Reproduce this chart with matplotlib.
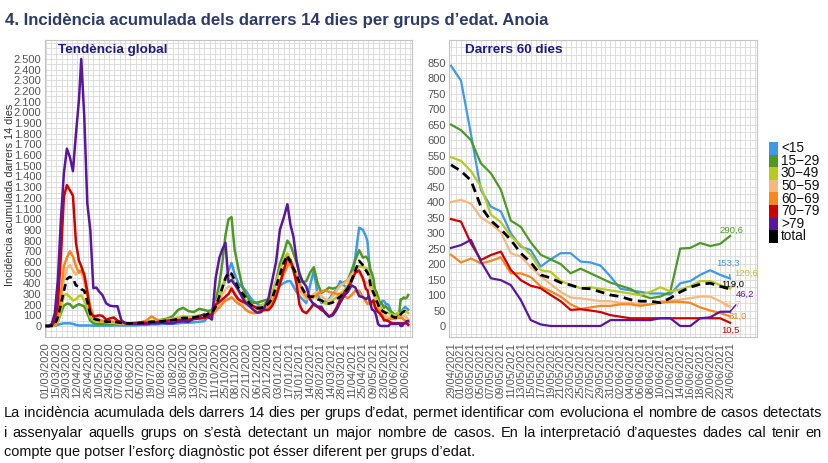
import datetime as dt
import matplotlib
matplotlib.use("Agg")
import matplotlib.pyplot as plt
from matplotlib import font_manager
from matplotlib.patches import Rectangle
from matplotlib.ticker import FixedLocator, FuncFormatter

# ------------------------------------------------------------------ data
groups = ["<15", "15\u221229", "30\u221249", "50\u221259", "60\u221269", "70\u221279", ">79", "total"]
colors = ["#3d9ae8", "#4b9a25", "#b9c91e", "#f8b77c", "#f7861d", "#d00000", "#5a169d", "#000000"]

left_start = dt.date(2020, 3, 1)
# days since 01/03/2020 (left panel, before the last 60 days)
left_days = [0, 4, 8, 12, 16, 20, 24, 28, 32, 36, 40, 44, 47, 51, 55, 59, 63, 67, 71, 75, 80, 85, 90, 95, 100, 105,
             112, 119, 126, 133, 140, 147, 154, 161, 168, 175, 182, 189, 196, 203, 210,
             215, 220, 225, 230, 234, 238, 242, 246, 250, 255, 260, 265, 270, 275, 280, 285, 290, 295, 300, 305,
             310, 315, 320, 324, 328, 332, 336, 340, 345, 350, 355, 360, 365, 370, 375, 380, 385, 390, 395, 400,
             405, 410, 415, 420]

left_u15 = [0, 0, 0, 2, 10, 20, 25, 25, 25, 20, 10, 5, 5, 5, 5, 5, 3, 3, 3, 3, 3, 3, 5, 5, 5, 5,
            5, 5, 10, 10, 15, 15, 20, 20, 20, 25, 30, 30, 35, 40, 45,
            90, 110, 150, 250, 370, 430, 520, 590, 490, 400, 365, 330, 275, 230, 210, 185, 200, 240, 270, 320,
            380, 400, 420, 420, 370, 320, 280, 250, 215, 380, 520, 300, 215, 230, 250, 300, 340, 420, 380, 350,
            420, 650, 920, 900]
left_15_29 = [0, 0, 0, 5, 40, 120, 190, 210, 205, 170, 190, 205, 195, 185, 120, 50, 25, 20, 20, 20, 20, 20, 20, 20, 20, 20,
              25, 30, 35, 40, 45, 50, 60, 70, 90, 150, 170, 140, 130, 160, 150,
              140, 150, 230, 400, 600, 850, 1000, 1020, 720, 540, 380, 290, 240, 215, 220, 230, 240, 250, 300, 420,
              580, 680, 800, 760, 680, 600, 500, 410, 420, 500, 550, 400, 310, 330, 360, 350, 360, 380, 410, 430,
              520, 620, 710, 640]
left_30_49 = [0, 0, 0, 5, 40, 150, 290, 300, 270, 240, 250, 280, 285, 240, 170, 80, 55, 45, 40, 40, 35, 30, 30, 25, 25, 25,
              25, 25, 30, 35, 40, 45, 55, 60, 70, 80, 90, 85, 90, 100, 100,
              110, 130, 200, 300, 380, 440, 480, 470, 400, 330, 280, 240, 200, 185, 180, 190, 210, 250, 310, 420,
              520, 620, 680, 620, 560, 480, 400, 330, 280, 270, 290, 260, 230, 210, 210, 240, 270, 300, 330, 380,
              460, 520, 560, 550]
left_50_59 = [0, 0, 0, 5, 60, 250, 430, 540, 570, 520, 480, 520, 500, 420, 280, 140, 80, 60, 50, 45, 40, 35, 30, 25, 25, 25,
              25, 25, 30, 35, 40, 45, 50, 55, 60, 60, 65, 65, 70, 75, 80,
              80, 100, 160, 230, 300, 340, 370, 360, 310, 250, 220, 200, 180, 160, 150, 150, 170, 200, 250, 330,
              420, 500, 580, 570, 520, 430, 340, 300, 250, 260, 300, 320, 280, 250, 240, 280, 330, 380, 400, 430,
              480, 520, 500, 430]
left_60_69 = [0, 0, 0, 10, 80, 300, 560, 640, 700, 650, 560, 500, 520, 470, 330, 180, 100, 70, 55, 50, 40, 45, 40, 30, 30, 25,
              25, 30, 35, 50, 90, 60, 45, 50, 50, 55, 60, 60, 65, 70, 75,
              80, 100, 140, 175, 210, 240, 250, 270, 240, 210, 190, 150, 130, 120, 125, 130, 150, 180, 230, 300,
              400, 480, 560, 600, 520, 450, 400, 330, 280, 250, 270, 300, 320, 335, 320, 310, 300, 300, 280, 260,
              290, 330, 330, 270]
left_70_79 = [0, 0, 5, 50, 210, 650, 1210, 1320, 1270, 1220, 780, 610, 560, 480, 320, 130, 90, 95, 100, 95, 60, 70, 80, 50, 40, 30,
              20, 25, 30, 30, 35, 35, 45, 50, 55, 55, 60, 60, 65, 70, 75,
              85, 115, 200, 225, 250, 275, 300, 350, 300, 250, 230, 215, 200, 185, 165, 150, 150, 150, 190, 270,
              390, 520, 640, 620, 524, 400, 200, 140, 120, 160, 210, 180, 150, 130, 90, 110, 170, 250, 310, 360,
              420, 500, 520, 450]
left_over79 = [0, 0, 20, 120, 430, 990, 1430, 1660, 1580, 1450, 1800, 2120, 2500, 1960, 1150, 900, 355, 360, 320, 290, 212, 190, 185, 185, 56, 25,
               25, 20, 20, 20, 25, 25, 30, 25, 25, 40, 45, 40, 70, 90, 110,
               85, 60, 450, 640, 720, 780, 410, 430, 390, 340, 270, 215, 185, 150, 125, 130, 180, 260, 430, 600,
               900, 1010, 1140, 950, 836, 620, 480, 420, 370, 250, 200, 180, 180, 120, 87, 100, 150, 220, 280, 320,
               380, 360, 280, 270]
left_total = [0, 0, 2, 15, 80, 200, 330, 440, 460, 445, 380, 370, 345, 330, 230, 110, 70, 60, 55, 50, 40, 40, 40, 35, 30, 25,
              25, 25, 30, 30, 40, 40, 45, 50, 55, 65, 75, 75, 80, 90, 95,
              115, 120, 180, 280, 360, 450, 500, 490, 430, 360, 310, 260, 210, 180, 170, 170, 180, 210, 260, 370,
              480, 590, 660, 590, 540, 480, 410, 350, 285, 275, 275, 250, 240, 215, 210, 220, 250, 275, 310, 350,
              430, 520, 610, 570]

# last 60 days panel: days since 29/04/2021 (= day 424 of the left panel)
right_start = dt.date(2021, 4, 29)
right_offset = 424
right_days = list(range(0, 57, 2))
right_u15 = [840, 792, 620, 439, 385, 370, 299, 256, 245, 192, 215, 235, 235, 208, 205, 195, 160, 120, 115,
             110, 105, 105, 102, 138, 145, 165, 180, 165, 153.3]
right_15_29 = [650, 632, 600, 525, 493, 440, 340, 320, 270, 230, 215, 200, 170, 185, 170, 155, 140, 130, 120,
               100, 90, 95, 110, 250, 252, 268, 258, 265, 290.6]
right_30_49 = [545, 533, 500, 450, 360, 335, 290, 261, 230, 180, 175, 145, 133, 122, 125, 120, 115, 110, 105,
               100, 110, 125, 112, 118, 128, 145, 145, 132, 120.6]
right_50_59 = [400, 407, 395, 350, 330, 303, 235, 224, 190, 160, 135, 110, 92, 89, 85, 80, 80, 75, 75,
               70, 70, 80, 82, 85, 90, 95, 95, 80, 61.7]
right_60_69 = [230, 205, 218, 202, 210, 222, 170, 170, 158, 128, 112, 95, 70, 55, 60, 65, 65, 70, 70,
               65, 70, 75, 78, 78, 75, 60, 50, 42, 31.0]
right_70_79 = [345, 337, 267, 213, 229, 240, 181, 148, 130, 122, 100, 80, 52, 54, 50, 45, 35, 30, 25,
               25, 25, 25, 25, 25, 25, 25, 25, 25, 10.5]
right_over79 = [252, 261, 278, 208, 154, 148, 132, 84, 19, 5, 0, 0, 0, 0, 0, 0, 19, 19, 19,
                19, 19, 25, 25, 0, 0, 25, 28, 46, 46.2]
right_total = [520, 500, 470, 385, 340, 312, 278, 235, 205, 165, 155, 140, 132, 122, 120, 110, 100, 95, 85,
               80, 80, 75, 90, 110, 125, 135, 138, 128, 119.0]

left_series = [left_u15, left_15_29, left_30_49, left_50_59, left_60_69, left_70_79, left_over79, left_total]
right_series = [right_u15, right_15_29, right_30_49, right_50_59, right_60_69, right_70_79, right_over79, right_total]

left_ticks = list(range(0, 477, 14))
right_ticks = list(range(0, 57, 2))

title = "4. Incidència acumulada dels darrers 14 dies per grups d\u2019edat. Anoia"
panel_left = "Tendència global"
panel_right = "Darrers 60 dies"
ylabel = "Incidència acumulada darrers 14 dies"
caption = [
    "La incidència acumulada dels darrers 14 dies per grups d\u2019edat, permet identificar com evoluciona el nombre de casos detectats",
    "i assenyalar aquells grups on s\u2019està detectant un major nombre de casos.  En la interpretació d\u2019aquestes dades cal tenir en",
    "compte que potser l\u2019esforç diagnòstic pot ésser diferent per grups d\u2019edat.",
]

# ------------------------------------------------------------------ style
W, H = 829, 463


def font_ok(name):
    try:
        font_manager.findfont(font_manager.FontProperties(family=name), fallback_to_default=False)
        return True
    except Exception:
        return False


BASE = "Liberation Sans" if font_ok("Liberation Sans") else "DejaVu Sans"
NARROW = "Liberation Sans Narrow" if font_ok("Liberation Sans Narrow") else BASE
plt.rcParams["font.family"] = [BASE, "DejaVu Sans"]

fig = plt.figure(figsize=(W / 100, H / 100), dpi=100)


def rect(x0, y0, x1, y1):
    return [x0 / W, 1 - y1 / H, (x1 - x0) / W, (y1 - y0) / H]


axL = fig.add_axes(rect(45, 40, 412, 337))
axR = fig.add_axes(rect(449, 40, 757, 337))

GRID = "#d9d9d9"
TICK = "#555555"


def style(ax):
    ax.set_axisbelow(True)
    ax.grid(which="both", color=GRID, lw=0.6)
    for s in ax.spines.values():
        s.set_color("#c4c4c4")
        s.set_linewidth(0.8)
    ax.tick_params(which="both", length=0, labelcolor=TICK, labelsize=8, pad=2.5)


# left panel
x_left = left_days + [right_offset + d for d in right_days]
for vals_l, vals_r, c, g in zip(left_series, right_series, colors, groups):
    y = vals_l + vals_r
    if g == "total":
        axL.plot(x_left, y, color=c, lw=1.9, dashes=(2.6, 1.6), zorder=5)
    else:
        axL.plot(x_left, y, color=c, lw=1.8, zorder=3)
axL.set_xlim(-1, 485)
axL.set_ylim(-103, 2678)
axL.xaxis.set_major_locator(FixedLocator(left_ticks))
axL.xaxis.set_minor_locator(FixedLocator(list(range(0, 485, 7))))
axL.set_xticklabels([(left_start + dt.timedelta(days=d)).strftime("%d/%m/%Y") for d in left_ticks],
                    rotation=90, fontsize=7.6)
axL.yaxis.set_major_locator(FixedLocator(list(range(0, 2501, 100))))
axL.yaxis.set_minor_locator(FixedLocator(list(range(-100, 2700, 50))))
axL.yaxis.set_major_formatter(FuncFormatter(lambda v, p: f"{int(v):,}".replace(",", ".")))
style(axL)
axL.tick_params(axis="x", pad=4)

# right panel
for vals, c, g in zip(right_series, colors, groups):
    if g == "total":
        axR.plot(right_days, vals, color=c, lw=2.0, dashes=(3.2, 2.0), zorder=5)
    else:
        axR.plot(right_days, vals, color=c, lw=1.6, zorder=3)
axR.set_xlim(-0.4, 61.4)
axR.set_ylim(-35.5, 923)
axR.xaxis.set_major_locator(FixedLocator(right_ticks))
axR.xaxis.set_minor_locator(FixedLocator(list(range(0, 62))))
axR.set_xticklabels([(right_start + dt.timedelta(days=d)).strftime("%d/%m/%Y") for d in right_ticks],
                    rotation=90, fontsize=7.6)
axR.yaxis.set_major_locator(FixedLocator(list(range(0, 851, 50))))
axR.yaxis.set_minor_locator(FixedLocator(list(range(-25, 925, 25))))
style(axR)
axR.tick_params(axis="x", pad=4)

# end labels (offsets in points, leader line where the label is moved away)
label_offsets = {
    "<15": (-1.4, 11.0, True),
    "15\u221229": (1.0, 4.3, False),
    "30\u221249": (11.3, 11.0, True),
    "50\u221259": (1.0, 2.1, False),
    "60\u221269": (5.8, 0.0, False),
    "70\u221279": (0.0, -5.3, False),
    ">79": (10.6, 12.5, True),
    "total": (2.2, 3.5, False),
}
for vals, c, g in zip(right_series, colors, groups):
    dx, dy, lead = label_offsets[g]
    txt = f"{vals[-1]:.1f}".replace(".", ",")
    kw = dict(arrowprops=dict(arrowstyle="-", color=c, lw=1.0, shrinkA=3, shrinkB=0)) if lead else {}
    axR.annotate(txt, xy=(right_days[-1], vals[-1]), xytext=(dx, dy), textcoords="offset points",
                 ha="center", va="center", fontsize=6.8, color=c, zorder=6, **kw)

# legend (manual, stacked squares)
row_h = 12.6
for i, (g, c) in enumerate(zip(groups, colors)):
    top = 142 + i * row_h
    fig.patches.append(Rectangle((769 / W, 1 - (top + row_h) / H), 9 / W, row_h / H,
                                 transform=fig.transFigure, color=c, lw=0))
    fig.text(781 / W, 1 - (top + row_h / 2) / H, g, va="center", ha="left", fontsize=9.8, color="#111111")

# titles
fig.canvas.draw()
r = fig.canvas.get_renderer()


def wpx(t):
    return t.get_window_extent(renderer=r).width


t = fig.text(5 / W, 1 - 25.5 / H, title, fontsize=12, weight="bold", color="#2d3b6c", va="baseline")
t.set_fontsize(12 * 543 / wpx(t))
fig.text(58 / W, 1 - 53 / H, panel_left, fontsize=9.7, weight="bold", color="#1c1c84", va="baseline")
fig.text(465 / W, 1 - 53 / H, panel_right, fontsize=9.7, weight="bold", color="#1c1c84", va="baseline")
fig.text(10 / W, 1 - 195 / H, ylabel, rotation=90, ha="center", va="center", fontsize=7.8, color="#333333")

# caption, justified like the source
probe = fig.text(0, 0, caption[2], fontsize=10, family=[NARROW, "DejaVu Sans"])
fs = 10 * 470 / wpx(probe)
probe.remove()
cap_y = [413, 433, 452]
for li, (line, yy) in enumerate(zip(caption, cap_y)):
    if li < 2:
        words = line.split()
        texts = [fig.text(0, 1 - yy / H, wd, fontsize=fs, family=[NARROW, "DejaVu Sans"],
                          va="center", color="#111111") for wd in words]
        widths = [wpx(tt) for tt in texts]
        gap = (822 - 4 - sum(widths)) / (len(words) - 1)
        x = 4
        for tt, ww in zip(texts, widths):
            tt.set_x(x / W)
            x += ww + gap
    else:
        fig.text(4 / W, 1 - yy / H, line, fontsize=fs, family=[NARROW, "DejaVu Sans"],
                 va="center", color="#111111")

fig.savefig("out.png", dpi=100)
